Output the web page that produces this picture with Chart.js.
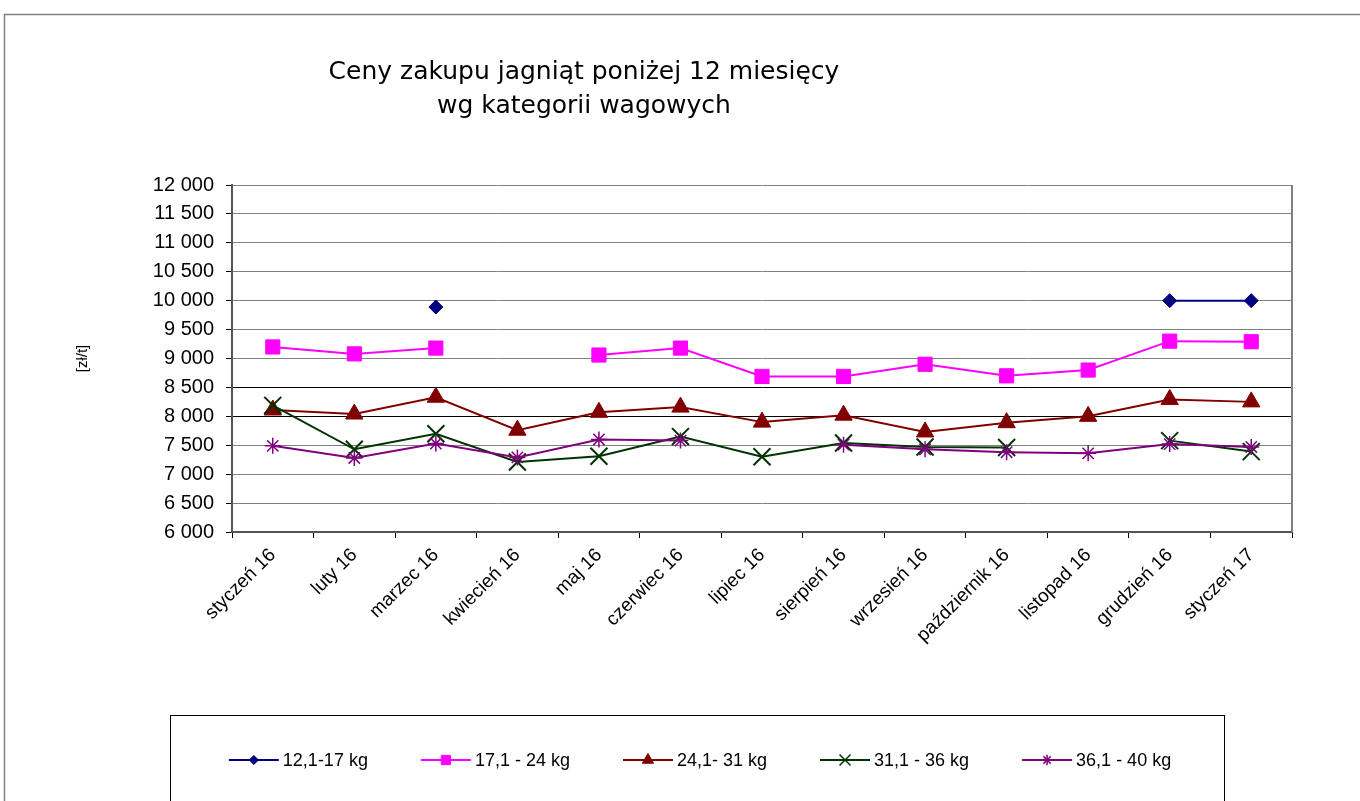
<!DOCTYPE html>
<html>
<head>
<meta charset="utf-8">
<script src="https://cdn.jsdelivr.net/npm/chart.js@4.4.1/dist/chart.umd.min.js"></script>
<style>
  body { margin: 0; background: #fff; }
  #wrap { width: 1360px; height: 801px; }
</style>
</head>
<body>
<div id="wrap"><canvas id="chart" width="1360" height="801"></canvas></div>
<script>
// months on the x axis
const months = ['styczeń 16', 'luty 16', 'marzec 16', 'kwiecień 16', 'maj 16', 'czerwiec 16',
  'lipiec 16', 'sierpień 16', 'wrzesień 16', 'październik 16', 'listopad 16', 'grudzień 16', 'styczeń 17'];

// prices [zł/t] per weight class (null = no quotation)
const w12to17 = [null, null, 9890, null, null, null, null, null, null, null, null, 10000, 10000];
const w17to24 = [9200, 9080, 9180, null, 9060, 9180, 8690, 8690, 8900, 8700, 8800, 9300, 9290];
const w24to31 = [8110, 8040, 8330, 7760, 8070, 8160, 7900, 8020, 7730, 7890, 8000, 8290, 8250];
const w31to36 = [8190, 7430, 7700, 7210, 7310, 7650, 7300, 7540, 7470, 7460, null, 7580, 7390];
const w36to40 = [7490, 7280, 7530, 7290, 7600, 7580, null, 7510, 7430, 7380, 7360, 7520, 7470];

const seriesNames = ['12,1-17 kg', '17,1 - 24 kg', '24,1- 31 kg', '31,1 - 36 kg', '36,1 - 40 kg'];

const yMin = 6000;
const yMax = 12000;
const yStep = 500;

const titleLines = ['Ceny zakupu jagniąt poniżej 12 miesięcy', 'wg kategorii wagowych'];
const yTitle = '[zł/t]';

const AXIS_FONT = '"Liberation Sans", Arial, sans-serif';

function fmt(v) {
    return String(v).replace(/\B(?=(\d{3})+(?!\d))/g, ' ');
}

function series(i, data, color, style, radius, bw) {
    return {
        label: seriesNames[i],
        data: data,
        borderColor: color,
        backgroundColor: color,
        borderWidth: 2,
        pointStyle: style,
        pointRadius: radius,
        pointHoverRadius: radius,
        pointBackgroundColor: color,
        pointBorderColor: color,
        pointBorderWidth: bw,
        tension: 0,
        spanGaps: false,
        order: 4 - i
    };
}

// frame, plot border, title and boxed legend
const decor = {
    id: 'decor',
    beforeDraw(chart) {
        const ctx = chart.ctx;
        ctx.save();
        ctx.fillStyle = '#fff';
        ctx.fillRect(0, 0, chart.width, chart.height);
        ctx.strokeStyle = '#808080';
        ctx.lineWidth = 1.5;
        ctx.strokeRect(4.5, 14.5, chart.width + 20, chart.height + 20);
        ctx.lineWidth = 1;
        ctx.strokeStyle = '#000';
        ctx.strokeRect(170.5, 715.5, 1054, chart.height);
        ctx.restore();
    },
    beforeDatasetsDraw(chart) {
        const ctx = chart.ctx;
        const a = chart.chartArea;
        ctx.save();
        ctx.strokeStyle = '#808080';
        ctx.lineWidth = 2;
        ctx.beginPath();
        ctx.moveTo(a.right, a.top);
        ctx.lineTo(a.right, a.bottom);
        ctx.stroke();
        ctx.restore();
    },
    afterDraw(chart) {
        const ctx = chart.ctx;
        ctx.save();
        // title
        ctx.fillStyle = '#000';
        ctx.textAlign = 'center';
        ctx.textBaseline = 'middle';
        ctx.font = '25px "DejaVu Sans", sans-serif';
        ctx.fillText(titleLines[0], 584, 72);
        ctx.fillText(titleLines[1], 584, 106);

        // legend
        ctx.font = '18px ' + AXIS_FONT;
        ctx.textAlign = 'left';
        const lineLen = 50, gapTxt = 4, gapItem = 53, ly = 760;
        const widths = chart.data.datasets.map(d => ctx.measureText(d.label).width);
        let total = 0;
        widths.forEach(w => { total += lineLen + gapTxt + w; });
        total += gapItem * (widths.length - 1);
        let x = 700 - total / 2;
        chart.data.datasets.forEach((d, i) => {
            ctx.strokeStyle = d.borderColor;
            ctx.lineWidth = 2;
            ctx.beginPath();
            ctx.moveTo(x, ly);
            ctx.lineTo(x + lineLen, ly);
            ctx.stroke();
            ctx.fillStyle = d.pointBackgroundColor;
            ctx.strokeStyle = d.pointBorderColor;
            ctx.lineWidth = Math.min(d.pointBorderWidth, 1.5);
            Chart.helpers.drawPoint(ctx, {
                pointStyle: d.pointStyle,
                radius: d.pointRadius * 0.65,
                rotation: 0,
                borderWidth: ctx.lineWidth
            }, x + lineLen / 2, ly);
            ctx.fillStyle = '#000';
            ctx.fillText(d.label, x + lineLen + gapTxt, ly + 1);
            x += lineLen + gapTxt + widths[i] + gapItem;
        });
        ctx.restore();
    }
};

new Chart(document.getElementById('chart'), {
    type: 'line',
    data: {
        labels: months,
        datasets: [
            series(0, w12to17, '#000080', 'rectRot', 7, 1),
            series(1, w17to24, '#FF00FF', 'rect', 10, 1),
            series(2, w24to31, '#800000', 'triangle', 10, 1),
            series(3, w31to36, '#003300', 'crossRot', 12, 2),
            series(4, w36to40, '#800080', 'star', 8, 1.5)
        ]
    },
    options: {
        responsive: false,
        animation: false,
        layout: { padding: { top: 185, right: 68, left: 0, bottom: 0 } },
        plugins: {
            legend: { display: false },
            title: { display: false },
            tooltip: { enabled: false }
        },
        scales: {
            x: {
                offset: true,
                afterFit: (s) => { s.height = 801 - 532; },
                grid: {
                    offset: true,
                    drawOnChartArea: false,
                    tickLength: 6,
                    color: '#000'
                },
                border: { color: '#555', width: 2 },
                ticks: {
                    autoSkip: false,
                    minRotation: 45,
                    maxRotation: 45,
                    padding: 6,
                    color: '#000',
                    font: { family: AXIS_FONT, size: 19 }
                }
            },
            y: {
                min: yMin,
                max: yMax,
                afterFit: (s) => { s.width = 232; },
                grid: {
                    color: (c) => (c.tick && (c.tick.value === 8000 || c.tick.value === 8500)) ? '#000' : '#808080',
                    tickColor: '#000',
                    tickLength: 6,
                    lineWidth: 1
                },
                border: { color: '#555', width: 2 },
                ticks: {
                    stepSize: yStep,
                    padding: 12,
                    color: '#000',
                    font: { family: AXIS_FONT, size: 20 },
                    callback: (v) => fmt(v)
                },
                title: {
                    display: true,
                    text: yTitle,
                    color: '#000',
                    font: { family: AXIS_FONT, size: 15 },
                    padding: { top: 74, bottom: 0 }
                }
            }
        }
    },
    plugins: [decor]
});
</script>
</body>
</html>
